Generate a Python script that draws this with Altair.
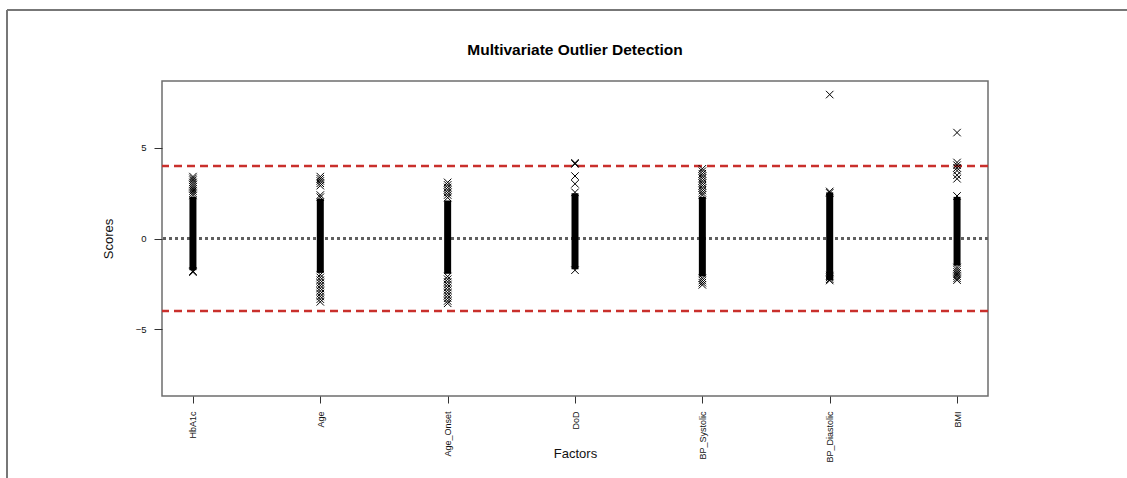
import altair as alt
import pandas as pd

# ---- data ----
factors = ["HbA1c", "Age", "Age_Onset", "DoD", "BP_Systolic", "BP_Diastolic", "BMI"]

# dense part of each column (overlapping markers form a solid bar)
core_low = [-1.75, -1.9, -1.95, -1.7, -2.1, -2.3, -1.5]
core_high = [2.3, 2.2, 2.1, 2.5, 2.3, 2.55, 2.3]

# individually visible markers
hba1c_pts = [3.42, 3.32, 3.22, 3.1, 2.98, 2.86, 2.74, 2.62, 2.5, 2.38, -1.8, -1.86]
age_pts = [3.42, 3.3, 3.18, 3.05, 2.92, 2.4, 2.28, -2.0, -2.15, -2.3, -2.45, -2.6,
           -2.75, -2.9, -3.05, -3.2, -3.35, -3.5]
age_onset_pts = [3.1, 2.96, 2.82, 2.68, 2.54, 2.4, 2.26, -2.1, -2.25, -2.4, -2.55,
                 -2.7, -2.85, -3.0, -3.15, -3.3, -3.45, -3.58]
dod_pts = [4.18, 4.12, 3.45, 3.02, 2.55, -1.75]
bp_sys_pts = [3.85, 3.72, 3.58, 3.45, 3.32, 3.18, 3.05, 2.92, 2.78, 2.65, 2.52, 2.4,
              -2.2, -2.32, -2.44, -2.56]
bp_dia_pts = [7.95, 2.6, 2.52, -2.05, -2.15, -2.25, -2.32]
bmi_pts = [5.85, 4.2, 4.05, 3.9, 3.75, 3.5, 3.3, 2.35, -1.6, -1.72, -1.84, -1.96,
           -2.08, -2.2, -2.3]

thresholds = [4, -4]
center_line = [0]
y_ticks = [-5, 0, 5]

# ---- tables ----
all_pts = [hba1c_pts, age_pts, age_onset_pts, dod_pts, bp_sys_pts, bp_dia_pts, bmi_pts]
points_df = pd.DataFrame(
    [{"Factor": f, "Score": v} for f, vals in zip(factors, all_pts) for v in vals]
)
core_df = pd.DataFrame({"Factor": factors, "low": core_low, "high": core_high})
thr_df = pd.DataFrame({"y": thresholds})
zero_df = pd.DataFrame({"y": center_line})
one_df = pd.DataFrame({"title": ["Multivariate Outlier Detection"]})

FONT = "Liberation Sans"
W, H = 826, 315

x_enc = alt.X(
    "Factor:N",
    sort=factors,
    scale=alt.Scale(type="point", padding=0.243),
    axis=alt.Axis(
        title="Factors",
        labelAngle=270,
        labelFontSize=9,
        labelPadding=8,
        tickSize=7,
        titleFontSize=13,
        titleFontWeight="normal",
        titleX=413,
        titleY=61,
        titleBaseline="alphabetic",
        titleAlign="center",
    ),
)
y_scale = alt.Scale(domain=[-8.7, 8.7], nice=False, zero=False)
y_axis = alt.Axis(
    title="Scores",
    values=y_ticks,
    labelFontSize=9.5,
    labelPadding=8,
    tickSize=8,
    titleFontSize=13,
    titleFontWeight="normal",
    titleAngle=270,
    titleX=-50,
    titleY=157.5,
    titleBaseline="alphabetic",
    titleAlign="center",
)

thr = alt.Chart(thr_df).mark_rule(
    color="#c9302c", strokeWidth=2.5, strokeDash=[8, 5]
).encode(y=alt.Y("y:Q", scale=y_scale, axis=y_axis))

zero = alt.Chart(zero_df).mark_rule(
    color="#5f5f5f", strokeWidth=3, strokeDash=[3, 3]
).encode(y=alt.Y("y:Q", scale=y_scale))

core = alt.Chart(core_df).mark_rule(
    color="black", strokeWidth=7, strokeCap="butt"
).encode(
    x=x_enc,
    y=alt.Y("low:Q", scale=y_scale, axis=y_axis),
    y2="high:Q",
)

pts = alt.Chart(points_df).mark_point(
    shape="M-1,-1L1,1M-1,1L1,-1",
    filled=False,
    stroke="black",
    strokeWidth=1.0,
    size=56,
    opacity=1,
).encode(
    x=x_enc,
    y=alt.Y("Score:Q", scale=y_scale, axis=y_axis),
)

title = alt.Chart(one_df).mark_text(
    font=FONT, fontSize=15.5, fontWeight="bold", color="black",
    align="center", baseline="alphabetic",
).encode(text="title:N", x=alt.value(413), y=alt.value(-26))

frame_top = alt.Chart(one_df).mark_rule(color="#777777", strokeWidth=2).encode(
    x=alt.value(-155), x2=alt.value(970), y=alt.value(-71)
)
frame_left = alt.Chart(one_df).mark_rule(color="#777777", strokeWidth=2).encode(
    x=alt.value(-155), y=alt.value(-71), y2=alt.value(400)
)

chart = (
    alt.layer(thr, zero, core, pts, title, frame_top, frame_left)
    .properties(
        width=W,
        height=H,
        autosize=alt.AutoSizeParams(type="none"),
        padding={"left": 162, "top": 81, "right": 139, "bottom": 82},
        background="white",
    )
    .configure_view(stroke="#6e6e6e", strokeWidth=1.5)
    .configure_axis(
        grid=False,
        domain=False,
        labelFont=FONT,
        titleFont=FONT,
        labelColor="#111111",
        titleColor="#111111",
        tickColor="#333333",
        tickWidth=1,
    )
)

chart.save("out.html", embed_options={"renderer": "svg", "actions": False})
